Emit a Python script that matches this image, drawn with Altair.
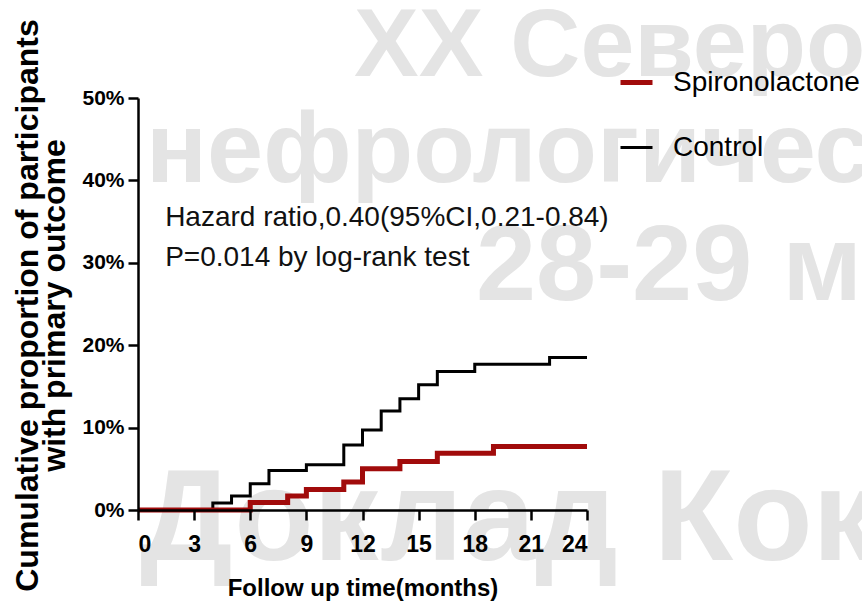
import altair as alt
import pandas as pd

# ---- data ----
control_months = [0, 4, 5, 6, 7, 9, 11, 12, 13, 14, 15, 16, 18, 22, 24]
control_pct = [0.0, 0.85, 1.7, 3.2, 4.8, 5.5, 7.9, 9.7, 12.0, 13.5, 15.2, 16.8, 17.7, 18.5, 18.5]

spiro_months = [0, 6, 8, 9, 11, 12, 14, 16, 19, 24]
spiro_pct = [0.0, 0.9, 1.7, 2.5, 3.4, 5.0, 5.9, 6.9, 7.7, 7.7]

groups = ["Spironolactone", "Control"]
group_colors = ["#a10b0b", "#000000"]
group_widths = [5, 3]

x_ticks = [0, 3, 6, 9, 12, 15, 18, 21, 24]
y_ticks = [0, 10, 20, 30, 40, 50]

annotation_lines = ["Hazard ratio,0.40(95%CI,0.21-0.84)", "P=0.014 by log-rank test"]
annotation_x = [1.45, 1.45]
annotation_y = [34.5, 29.6]

watermark_lines = ["XX Северо", "нефрологичес", "28-29 м", "Доклад Кок"]

FONT = "Liberation Sans, Arial, sans-serif"

ctrl_df = pd.DataFrame({"month": control_months, "pct": control_pct, "group": "Control"})
spiro_df = pd.DataFrame({"month": spiro_months, "pct": spiro_pct, "group": "Spironolactone"})
ann_df = pd.DataFrame({"x": annotation_x, "y": annotation_y, "label": annotation_lines})

x_enc = alt.X(
    "month:Q",
    scale=alt.Scale(domain=[0, 24], nice=False, zero=True),
    axis=alt.Axis(
        values=x_ticks,
        title="Follow up time(months)",
        labelPadding=13,
        labelFontSize=23,
        titleY=85,
        titleBaseline="alphabetic",
        titleFontSize=24,
        zindex=1,
    ),
)
y_enc = alt.Y(
    "pct:Q",
    scale=alt.Scale(domain=[0, 50], nice=False),
    axis=alt.Axis(
        values=y_ticks,
        labelExpr="datum.value + '%'",
        labelPadding=4,
        labelFontSize=21,
        title=["Cumulative proportion of participants", "with primary outcome"],
        titleAngle=270,
        titleAlign="center",
        titleBaseline="middle",
        titleX=-111,
        titleY=207,
        titleFontSize=32,
        titleLineHeight=27,
        zindex=1,
    ),
)

legend = alt.Legend(
    title=None,
    orient="none",
    legendX=480,
    legendY=-34,
    labelFont=FONT,
    labelFontSize=28,
    labelColor="#000000",
    labelLimit=400,
    symbolType="stroke",
    symbolSize=1024,
    labelOffset=18,
    rowPadding=33,
    padding=0,
)
color = alt.Color("group:N", scale=alt.Scale(domain=groups, range=group_colors), legend=legend)
width_enc = alt.StrokeWidth("group:N", scale=alt.Scale(domain=groups, range=group_widths), legend=legend)

ctrl_line = alt.Chart(ctrl_df).mark_line(interpolate="step-after").encode(
    x=x_enc, y=y_enc, color=color, strokeWidth=width_enc
)
spiro_line = alt.Chart(spiro_df).mark_line(interpolate="step-after").encode(
    x=x_enc, y=y_enc, color=color, strokeWidth=width_enc
)

annotation = alt.Chart(ann_df).mark_text(
    align="left", baseline="alphabetic", font=FONT, fontSize=28, color="#111111"
).encode(x=alt.X("x:Q"), y=alt.Y("y:Q"), text="label:N")

WM = "#e4e4e4"
wm_pos = [(216, -22, 97), (8, 84, 101), (338, 202, 108), (2, 462, 130)]
wm_layers = []
for line, (px, py, fs) in zip(watermark_lines, wm_pos):
    wm_layers.append(
        alt.Chart(pd.DataFrame({"t": [line]})).mark_text(
            align="left", baseline="alphabetic", font=FONT, fontWeight="bold",
            fontSize=fs, color=WM
        ).encode(text="t:N", x=alt.value(px), y=alt.value(py))
    )

chart = alt.layer(*wm_layers, ctrl_line, spiro_line, annotation).properties(
    width=449,
    height=412,
    autosize=alt.AutoSizeParams(type="none"),
    padding={"left": 138, "top": 98, "right": 275, "bottom": 100},
    background="white",
).configure_view(stroke=None).configure_axis(
    grid=False,
    domainColor="#000000",
    domainWidth=2.5,
    tickColor="#000000",
    tickWidth=2.5,
    tickSize=10,
    labelFont=FONT,
    labelFontWeight="bold",
    labelColor="#000000",
    titleFont=FONT,
    titleFontWeight="bold",
    titleColor="#000000",
)

chart.save("out.html", embed_options={"renderer": "svg", "actions": False})
